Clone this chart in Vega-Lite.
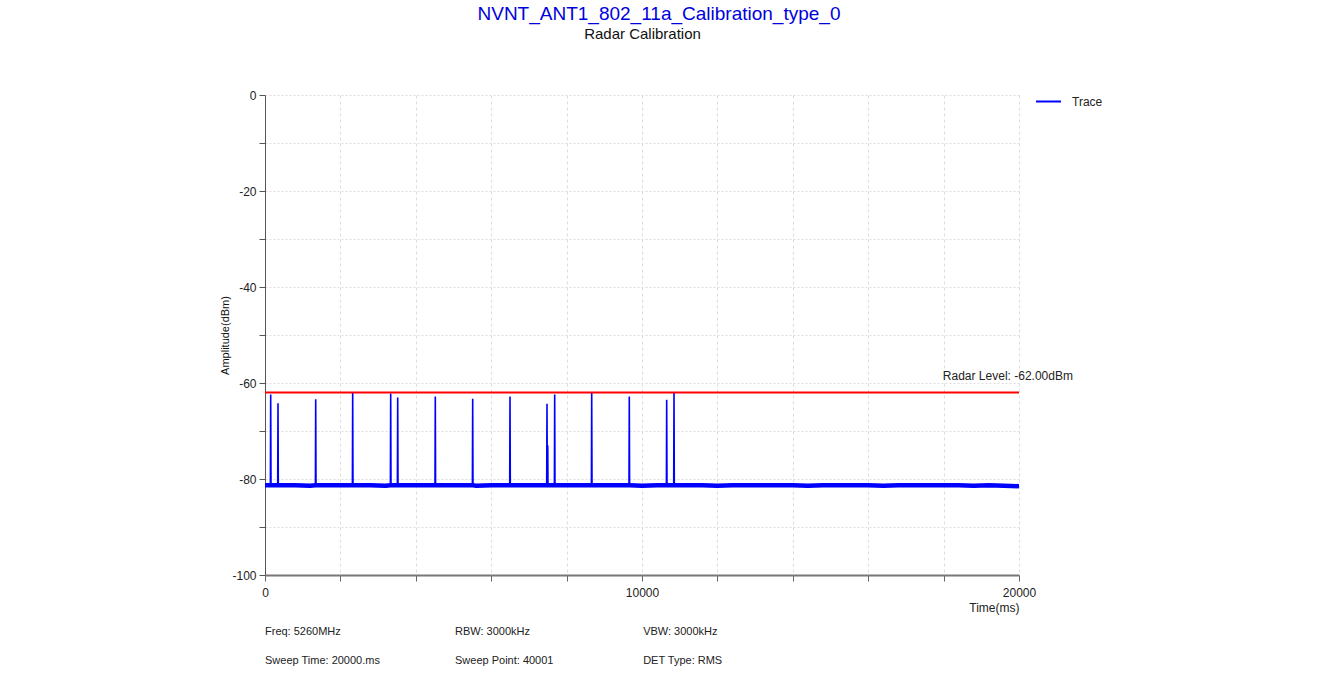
{
  "$schema": "https://vega.github.io/schema/vega-lite/v6.json",
  "width": 754,
  "height": 480,
  "autosize": {"type": "none"},
  "padding": {"left": 265, "top": 95, "right": 300, "bottom": 114},
  "background": "white",
  "title": {
    "text": "NVNT_ANT1_802_11a_Calibration_type_0",
    "anchor": "middle",
    "font": "Liberation Sans, sans-serif",
    "fontSize": 19,
    "fontWeight": "normal",
    "color": "#0000dd",
    "baseline": "alphabetic",
    "dx": 17,
    "offset": -13
  },
  "config": {
    "view": {"stroke": null},
    "font": "Liberation Sans, sans-serif"
  },
  "data": {
    "values": [
      {"t": 0, "dbm": -81.3}, {"t": 143, "dbm": -81.3}, {"t": 151, "dbm": -62.4}, {"t": 159, "dbm": -81.3},
      {"t": 337, "dbm": -81.3}, {"t": 345, "dbm": -64.2}, {"t": 353, "dbm": -81.3},
      {"t": 400, "dbm": -81.3}, {"t": 800, "dbm": -81.3}, {"t": 1200, "dbm": -81.4},
      {"t": 1337, "dbm": -81.3}, {"t": 1345, "dbm": -63.4}, {"t": 1353, "dbm": -81.3},
      {"t": 1600, "dbm": -81.3}, {"t": 2000, "dbm": -81.3},
      {"t": 2318, "dbm": -81.3}, {"t": 2326, "dbm": -61.9}, {"t": 2334, "dbm": -81.3},
      {"t": 2400, "dbm": -81.3}, {"t": 2800, "dbm": -81.3}, {"t": 3200, "dbm": -81.4},
      {"t": 3326, "dbm": -81.3}, {"t": 3334, "dbm": -62.2}, {"t": 3342, "dbm": -81.3},
      {"t": 3512, "dbm": -81.3}, {"t": 3520, "dbm": -63.0}, {"t": 3528, "dbm": -81.3},
      {"t": 3600, "dbm": -81.3}, {"t": 4000, "dbm": -81.3}, {"t": 4400, "dbm": -81.3},
      {"t": 4509, "dbm": -81.3}, {"t": 4517, "dbm": -62.8}, {"t": 4525, "dbm": -81.3},
      {"t": 4800, "dbm": -81.3}, {"t": 5200, "dbm": -81.3},
      {"t": 5501, "dbm": -81.3}, {"t": 5509, "dbm": -63.3}, {"t": 5517, "dbm": -81.3},
      {"t": 5600, "dbm": -81.4}, {"t": 6000, "dbm": -81.3}, {"t": 6400, "dbm": -81.3},
      {"t": 6491, "dbm": -81.3}, {"t": 6499, "dbm": -62.8}, {"t": 6507, "dbm": -81.3},
      {"t": 6800, "dbm": -81.3}, {"t": 7200, "dbm": -81.3},
      {"t": 7472, "dbm": -81.3}, {"t": 7480, "dbm": -64.3}, {"t": 7488, "dbm": -81.3},
      {"t": 7494, "dbm": -81.3}, {"t": 7500, "dbm": -73.0}, {"t": 7506, "dbm": -81.3},
      {"t": 7600, "dbm": -81.3},
      {"t": 7676, "dbm": -81.3}, {"t": 7684, "dbm": -62.4}, {"t": 7692, "dbm": -81.3},
      {"t": 8000, "dbm": -81.3}, {"t": 8400, "dbm": -81.3},
      {"t": 8658, "dbm": -81.3}, {"t": 8666, "dbm": -62.0}, {"t": 8674, "dbm": -81.3},
      {"t": 8800, "dbm": -81.3}, {"t": 9200, "dbm": -81.3}, {"t": 9600, "dbm": -81.3},
      {"t": 9655, "dbm": -81.3}, {"t": 9663, "dbm": -62.8}, {"t": 9671, "dbm": -81.3},
      {"t": 10000, "dbm": -81.4}, {"t": 10400, "dbm": -81.3},
      {"t": 10647, "dbm": -81.3}, {"t": 10655, "dbm": -63.5}, {"t": 10663, "dbm": -81.3},
      {"t": 10800, "dbm": -81.3},
      {"t": 10841, "dbm": -81.3}, {"t": 10849, "dbm": -62.0}, {"t": 10857, "dbm": -81.3},
      {"t": 11200, "dbm": -81.3}, {"t": 11600, "dbm": -81.3}, {"t": 12000, "dbm": -81.4},
      {"t": 12400, "dbm": -81.3}, {"t": 12800, "dbm": -81.3}, {"t": 13200, "dbm": -81.3},
      {"t": 13600, "dbm": -81.3}, {"t": 14000, "dbm": -81.3}, {"t": 14400, "dbm": -81.4},
      {"t": 14800, "dbm": -81.3}, {"t": 15200, "dbm": -81.3}, {"t": 15600, "dbm": -81.3},
      {"t": 16000, "dbm": -81.3}, {"t": 16400, "dbm": -81.4}, {"t": 16800, "dbm": -81.3},
      {"t": 17200, "dbm": -81.3}, {"t": 17600, "dbm": -81.3}, {"t": 18000, "dbm": -81.3},
      {"t": 18400, "dbm": -81.3}, {"t": 18800, "dbm": -81.4}, {"t": 19200, "dbm": -81.3},
      {"t": 19600, "dbm": -81.4}, {"t": 20000, "dbm": -81.5}
    ]
  },
  "resolve": {"axis": {"x": "independent"}},
  "layer": [
    {
      "mark": {"type": "line", "strokeWidth": 1.6, "clip": true},
      "encoding": {
        "x": {
          "field": "t", "type": "quantitative",
          "scale": {"domain": [0, 20000], "nice": false},
          "axis": {
            "values": [0, 2000, 4000, 6000, 8000, 10000, 12000, 14000, 16000, 18000, 20000],
            "labelExpr": "datum.value % 10000 === 0 ? toString(datum.value) : ''",
            "labelFontSize": 12, "labelColor": "#222222", "labelPadding": 6, "labelFlush": false,
            "tickSize": 6, "tickColor": "#666666",
            "domainColor": "#777777", "domainWidth": 2,
            "grid": true, "gridColor": "#dddddd", "gridDash": [3, 3],
            "title": "Time(ms)", "titleAnchor": "end", "titleFontSize": 12, "titleFontWeight": "normal",
            "titleColor": "#222222", "titlePadding": 4
          }
        },
        "y": {
          "field": "dbm", "type": "quantitative",
          "scale": {"domain": [-100, 0], "nice": false, "zero": false},
          "axis": {
            "values": [0, -5, -10, -15, -20, -25, -30, -35, -40, -45, -50, -55, -60, -65, -70, -75, -80, -85, -90, -95, -100],
            "labelExpr": "datum.value % 20 === 0 ? toString(datum.value) : ''",
            "labelFontSize": 12, "labelColor": "#222222", "labelPadding": 3,
            "tickSize": 6, "tickColor": "#555555",
            "domainColor": "#555555", "domainWidth": 1,
            "grid": true, "gridColor": "#dddddd", "gridDash": [2, 2],
            "title": "Amplitude(dBm)", "titleFontSize": 11,
            "titleFontWeight": "normal", "titleColor": "#111111", "titlePadding": 1
          }
        },
        "color": {
          "datum": "Trace", "type": "nominal",
          "scale": {"range": ["#0000ff"]},
          "legend": {
            "title": null, "orient": "none", "legendX": 770, "legendY": -7,
            "symbolType": "stroke", "symbolSize": 625, "symbolStrokeWidth": 2,
            "labelFontSize": 12, "labelColor": "#222222", "labelOffset": 10
          }
        }
      }
    },
    {
      "transform": [{"filter": "datum.dbm < -79"}],
      "mark": {"type": "line", "strokeWidth": 4.5, "clip": true},
      "encoding": {
        "x": {"field": "t", "type": "quantitative", "axis": null},
        "y": {"field": "dbm", "type": "quantitative"},
        "color": {"datum": "Trace", "type": "nominal"}
      }
    },
    {
      "data": {"values": [{"level": -62, "t": 17980, "label": "Radar Level: -62.00dBm"}]},
      "mark": {"type": "rule", "color": "#ff0000", "strokeWidth": 2},
      "encoding": {
        "y": {"field": "level", "type": "quantitative"}
      }
    },
    {
      "data": {"values": [{"level": -62, "t": 17980, "label": "Radar Level: -62.00dBm"}]},
      "mark": {"type": "text", "align": "left", "baseline": "middle", "dy": -17, "fontSize": 12, "color": "#222222", "clip": false},
      "encoding": {
        "x": {
          "field": "t", "type": "quantitative",
          "axis": {
            "orient": "top", "labels": false, "ticks": false, "domain": false, "grid": false,
            "title": "Radar Calibration",
            "titleFontSize": 15, "titleFontWeight": "normal",
            "titleColor": "#111111", "titleX": 377, "titleY": -62, "titleBaseline": "middle", "titleAlign": "center"
          }
        },
        "y": {"field": "level", "type": "quantitative"},
        "text": {"field": "label"}
      }
    },
    {
      "data": {
        "values": [
          {"t": 0, "dbm": -111.9, "label": "Freq: 5260MHz"},
          {"t": 5040, "dbm": -111.9, "label": "RBW: 3000kHz"},
          {"t": 10030, "dbm": -111.9, "label": "VBW: 3000kHz"},
          {"t": 0, "dbm": -117.9, "label": "Sweep Time: 20000.ms"},
          {"t": 5040, "dbm": -117.9, "label": "Sweep Point: 40001"},
          {"t": 10030, "dbm": -117.9, "label": "DET Type: RMS"}
        ]
      },
      "mark": {"type": "text", "align": "left", "baseline": "middle", "fontSize": 11, "color": "#222222", "clip": false},
      "encoding": {
        "x": {"field": "t", "type": "quantitative", "axis": null},
        "y": {"field": "dbm", "type": "quantitative"},
        "text": {"field": "label"}
      }
    }
  ]
}
